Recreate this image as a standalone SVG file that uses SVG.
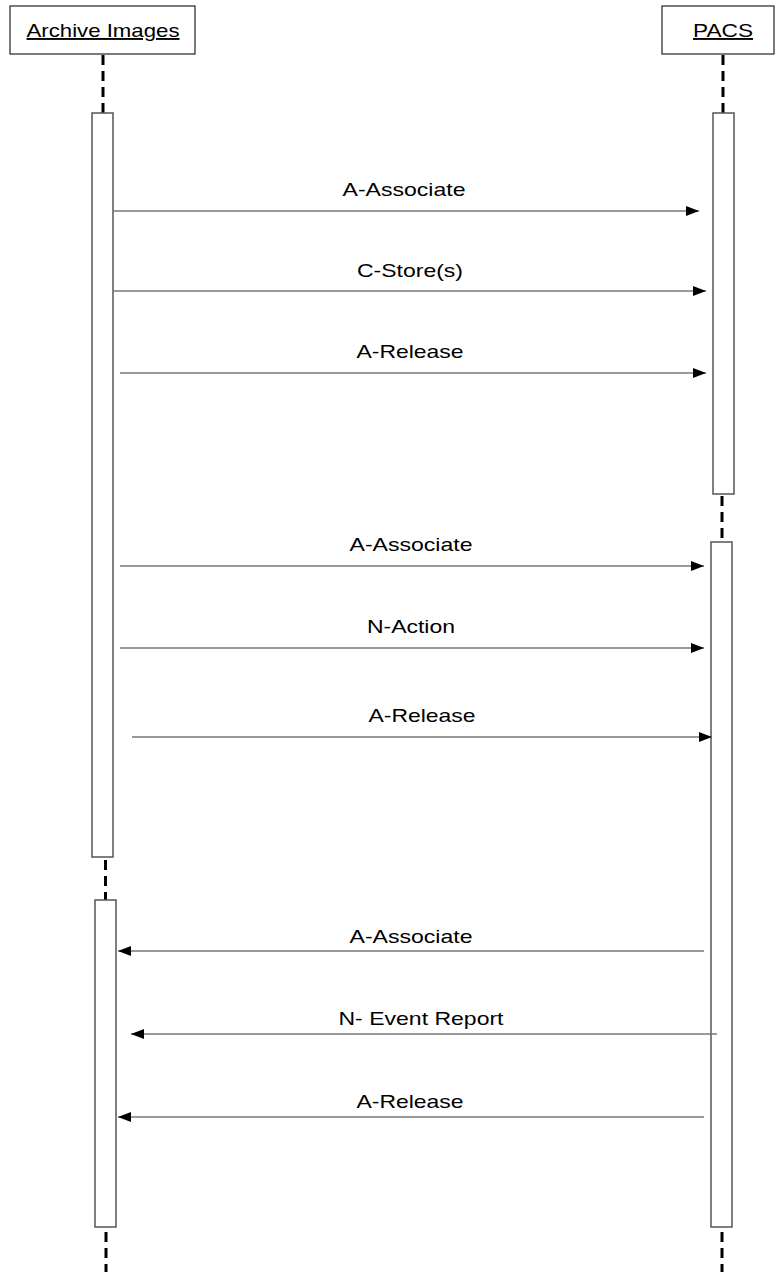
<svg xmlns="http://www.w3.org/2000/svg" width="775" height="1275" viewBox="0 0 775 1275">
<style>
.hdr{fill:#fff;stroke:#222;stroke-width:1.2}
.act{fill:#fff;stroke:#555;stroke-width:1.5}
.life{stroke:#000;stroke-width:3;stroke-dasharray:10 6;fill:none}
.msg{stroke:#777;stroke-width:1.5;fill:none;marker-end:url(#ah)}
text{font-family:"Liberation Sans",Arial,sans-serif;font-size:19px;fill:#000}
.hl{text-decoration:underline}
</style>
<defs>
<marker id="ah" markerUnits="userSpaceOnUse" markerWidth="13" markerHeight="10" refX="13" refY="5" orient="auto">
<path d="M0,0 L13,5 L0,10 Z" fill="#000"/>
</marker>
</defs>
<g id="archive">
<rect class="hdr" x="10" y="6" width="185" height="48"/>
<text class="hl" x="103" y="37" text-anchor="middle" textLength="153" lengthAdjust="spacingAndGlyphs">Archive Images</text>
</g>
<g id="pacs">
<rect class="hdr" x="662" y="6" width="112" height="48"/>
<text class="hl" x="723" y="37" text-anchor="middle" textLength="60" lengthAdjust="spacingAndGlyphs">PACS</text>
</g>
<g id="lifelines">
<line class="life" x1="103" y1="55" x2="103" y2="113"/>
<line class="life" x1="723" y1="55" x2="723" y2="113"/>
<line class="life" x1="722" y1="496" x2="722" y2="542"/>
<line class="life" x1="105.5" y1="860" x2="105.5" y2="900"/>
<line class="life" x1="106" y1="1232" x2="106" y2="1272"/>
<line class="life" x1="722" y1="1232" x2="722" y2="1272"/>
</g>
<g id="act-archive-1"><rect class="act" x="92" y="113" width="21" height="744"/></g>
<g id="act-pacs-1"><rect class="act" x="713" y="113" width="21" height="381"/></g>
<g id="act-pacs-2"><rect class="act" x="711" y="542" width="21" height="685"/></g>
<g id="act-archive-2"><rect class="act" x="95" y="900" width="21" height="327"/></g>
<g id="connectors">
<line class="msg" x1="113" y1="211" x2="699" y2="211"/>
<line class="msg" x1="113" y1="291" x2="706" y2="291"/>
<line class="msg" x1="120" y1="373" x2="706" y2="373"/>
<line class="msg" x1="120" y1="566" x2="704" y2="566"/>
<line class="msg" x1="120" y1="648" x2="704" y2="648"/>
<line class="msg" x1="132" y1="737" x2="712" y2="737"/>
<line class="msg" x1="704" y1="951" x2="118" y2="951"/>
<line class="msg" x1="717" y1="1034" x2="131" y2="1034"/>
<line class="msg" x1="704" y1="1117" x2="118" y2="1117"/>
</g>
<g id="labels">
<text x="404" y="196" text-anchor="middle" textLength="123" lengthAdjust="spacingAndGlyphs">A-Associate</text>
<text x="410" y="277" text-anchor="middle" textLength="106" lengthAdjust="spacingAndGlyphs">C-Store(s)</text>
<text x="410" y="358" text-anchor="middle" textLength="107" lengthAdjust="spacingAndGlyphs">A-Release</text>
<text x="411" y="551" text-anchor="middle" textLength="123" lengthAdjust="spacingAndGlyphs">A-Associate</text>
<text x="411" y="633" text-anchor="middle" textLength="88" lengthAdjust="spacingAndGlyphs">N-Action</text>
<text x="422" y="722" text-anchor="middle" textLength="107" lengthAdjust="spacingAndGlyphs">A-Release</text>
<text x="411" y="943" text-anchor="middle" textLength="123" lengthAdjust="spacingAndGlyphs">A-Associate</text>
<text x="421" y="1025" text-anchor="middle" textLength="165" lengthAdjust="spacingAndGlyphs">N- Event Report</text>
<text x="410" y="1108" text-anchor="middle" textLength="107" lengthAdjust="spacingAndGlyphs">A-Release</text>
</g>
</svg>
